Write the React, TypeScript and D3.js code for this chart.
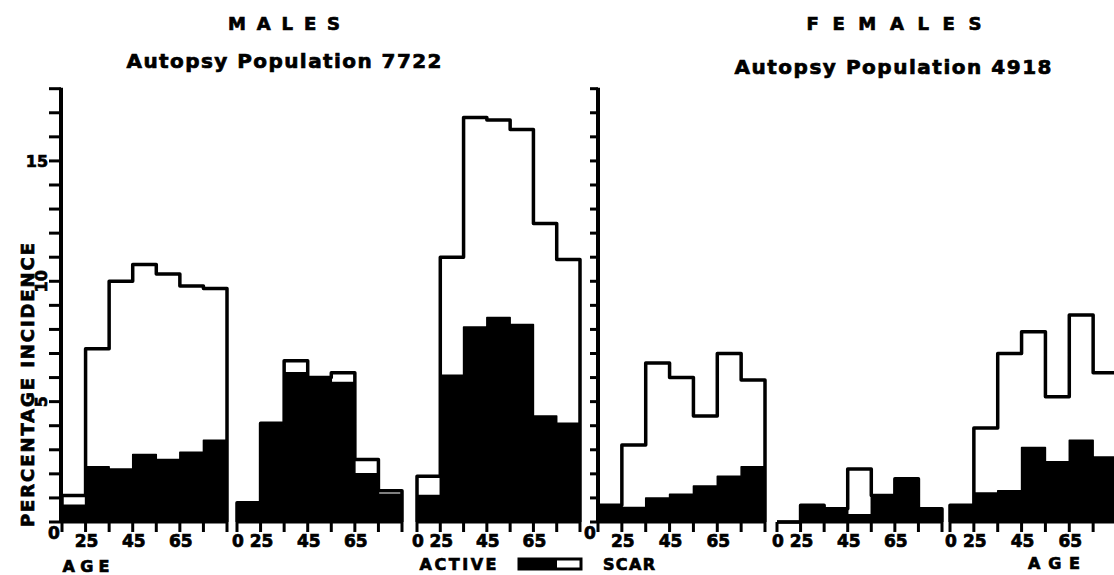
import React from "react";
import * as d3 from "d3";

// ---- Data (percentage incidence by age group) ----
const ageBins = ["0-24", "25-34", "35-44", "45-54", "55-64", "65-74", "75+"];
const ageTickLabels = ["0", "25", "", "45", "", "65", "", ""];
const yTicks = d3.range(0, 19);
const yTickLabels = [
  { v: 15, label: "15", rotate: false },
  { v: 10, label: "10", rotate: true },
  { v: 5, label: "5", rotate: true },
];

// Males (Autopsy population 7722)
const maleTotalA = [1.1, 7.2, 10.0, 10.7, 10.3, 9.8, 9.7];
const maleActiveA = [0.7, 2.3, 2.2, 2.8, 2.6, 2.9, 3.4];
const maleTotalB = [0.8, 4.1, 6.7, 6.0, 6.2, 2.6, 1.3];
const maleActiveB = [0.8, 4.0, 6.2, 6.0, 5.8, 2.0, 1.15];
const maleTotalC = [1.9, 11.0, 16.8, 16.7, 16.3, 12.4, 10.9];
const maleActiveC = [1.1, 6.1, 8.1, 8.5, 8.2, 4.4, 4.1];

// Females (Autopsy population 4918)
const femaleTotalA = [0.7, 3.2, 6.6, 6.0, 4.4, 7.0, 5.9];
const femaleActiveA = [0.7, 0.6, 1.0, 1.15, 1.5, 1.9, 2.3];
const femaleTotalB = [0, 0.7, 0.55, 2.2, 1.1, 1.8, 0.55];
const femaleActiveB = [0, 0.7, 0.55, 0.3, 1.1, 1.8, 0.55];
const femaleTotalC = [0.7, 3.9, 7.0, 7.9, 5.2, 8.6, 6.2];
const femaleActiveC = [0.7, 1.2, 1.3, 3.1, 2.5, 3.4, 2.7];

// ---- Layout ----
const W = 1114;
const H = 575;
const FONT = "'DejaVu Sans', 'Liberation Sans', sans-serif";
const BASE = 522;
const TOP = 88.7;
const TXT = { fontWeight: "bold" as const, fontFamily: FONT, stroke: "#000", strokeWidth: 0.7, fill: "#000" };

const panels = [
  { total: maleTotalA, active: maleActiveA, x0: 62, x1: 227, attached: true },
  { total: maleTotalB, active: maleActiveB, x0: 237, x1: 402, attached: false },
  { total: maleTotalC, active: maleActiveC, x0: 417, x1: 580, attached: false },
  { total: femaleTotalA, active: femaleActiveA, x0: 598, x1: 765, attached: true },
  { total: femaleTotalB, active: femaleActiveB, x0: 777, x1: 942, attached: false },
  { total: femaleTotalC, active: femaleActiveC, x0: 950, x1: 1117, attached: false },
];

const y = d3.scaleLinear().domain([0, 18]).range([BASE, TOP]);

function stepPath(vals: number[], x: d3.ScaleLinear<number, number>) {
  const pts: [number, number][] = [[x(0), y(0)]];
  vals.forEach((v, i) => {
    pts.push([x(i), y(v)]);
    pts.push([x(i + 1), y(v)]);
  });
  pts.push([x(vals.length), y(0)]);
  return d3.line()(pts) as string;
}

function Panel({ p }: { p: (typeof panels)[number] }) {
  const x = d3.scaleLinear().domain([0, ageBins.length]).range([p.x0, p.x1]);
  const ticks = d3.range(0, ageBins.length + 1);
  return (
    <g>
      <path d={stepPath(p.active, x)} fill="#000" stroke="#000" strokeWidth={1.5} strokeLinejoin="round" />
      <path d={stepPath(p.total, x)} fill="none" stroke="#000" strokeWidth={3.5} strokeLinejoin="round" />
      <line x1={x(0)} x2={x(ageBins.length)} y1={BASE} y2={BASE} stroke="#000" strokeWidth={3} />
      {ticks.map((t) => (
        <line key={t} x1={x(t)} x2={x(t)} y1={BASE} y2={BASE + 10} stroke="#000" strokeWidth={3} />
      ))}
      {ticks.map((t) => {
        const lab = ageTickLabels[t];
        if (!lab) return null;
        if (t === 0 && p.attached) {
          return (
            <text key={t} x={x(0) - 8} y={BASE + 17} textAnchor="middle" fontSize={17} {...TXT}>
              0
            </text>
          );
        }
        return (
          <text key={t} x={x(t) + 1} y={547} textAnchor="middle" fontSize={17} {...TXT}>
            {lab}
          </text>
        );
      })}
    </g>
  );
}

function YAxis({ x0, tickLen, labels }: { x0: number; tickLen: number; labels: boolean }) {
  return (
    <g>
      <line x1={x0} x2={x0} y1={y(0) + 1} y2={y(18) - 1} stroke="#000" strokeWidth={4} />
      {yTicks.map((t) => (
        <line key={t} x1={x0 - tickLen} x2={x0} y1={y(t)} y2={y(t)} stroke="#000" strokeWidth={3} />
      ))}
      {labels &&
        yTickLabels.map((d) =>
          d.rotate ? (
            <text
              key={d.v}
              transform={`translate(${x0 - 20},${y(d.v)}) rotate(-90)`}
              textAnchor="middle"
              dominantBaseline="central"
              fontSize={16}
              {...TXT}
            >
              {d.label}
            </text>
          ) : (
            <text key={d.v} x={x0 - 24} y={y(d.v) + 6} textAnchor="middle" fontSize={16} {...TXT}>
              {d.label}
            </text>
          )
        )}
    </g>
  );
}

export default function App() {
  return (
    <svg width={W} height={H} style={{ display: "block", position: "absolute", left: 0, top: 0, background: "#fff" }}>
      <rect x={0} y={0} width={W} height={H} fill="#fff" />
      {/* Titles */}
      <text x={284} y={30} textAnchor="middle" fontSize={18} {...TXT} textLength={112} lengthAdjust="spacing">
        MALES
      </text>
      <text x={284} y={68} textAnchor="middle" fontSize={20} {...TXT} textLength={315} lengthAdjust="spacing">
        Autopsy Population 7722
      </text>
      <text x={894} y={30} textAnchor="middle" fontSize={18} {...TXT} textLength={175} lengthAdjust="spacing">
        FEMALES
      </text>
      <text x={893} y={74} textAnchor="middle" fontSize={20} {...TXT} textLength={317} lengthAdjust="spacing">
        Autopsy Population 4918
      </text>

      {/* Y axis title */}
      <text
        transform={`translate(34,385) rotate(-90)`}
        textAnchor="middle"
        fontSize={18}
        {...TXT}
        textLength={284}
        lengthAdjust="spacing"
      >
        PERCENTAGE INCIDENCE
      </text>

      <YAxis x0={61} tickLen={12} labels={true} />
      <YAxis x0={598} tickLen={8} labels={false} />

      {panels.map((p, i) => (
        <Panel key={i} p={p} />
      ))}

      {/* AGE labels */}
      <text x={86} y={572} textAnchor="middle" fontSize={16} {...TXT} textLength={47} lengthAdjust="spacing">
        AGE
      </text>
      <text x={1054} y={569} textAnchor="middle" fontSize={16} {...TXT} textLength={52} lengthAdjust="spacing">
        AGE
      </text>

      {/* Legend */}
      <text x={458} y={570} textAnchor="middle" fontSize={16} {...TXT} textLength={77} lengthAdjust="spacing">
        ACTIVE
      </text>
      <rect x={519} y={559} width={62} height={10} fill="#fff" stroke="#000" strokeWidth={3} />
      <rect x={519} y={559} width={38} height={10} fill="#000" />
      <text x={629} y={570} textAnchor="middle" fontSize={16} {...TXT} textLength={52} lengthAdjust="spacing">
        SCAR
      </text>
    </svg>
  );
}
